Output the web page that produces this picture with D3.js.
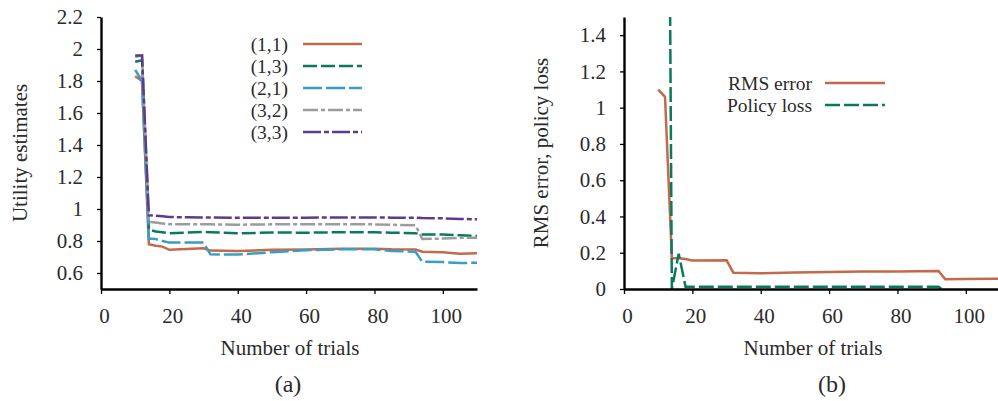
<!DOCTYPE html>
<html>
<head>
<meta charset="utf-8">
<script src="https://cdn.jsdelivr.net/npm/d3@7"></script>
<style>
  html, body { margin: 0; padding: 0; background: #fff; }
  svg { display: block; }
  text { font-family: "Liberation Serif", "Times New Roman", serif; fill: #2b2b2b; }
</style>
</head>
<body>
<svg id="chart" width="998" height="401"></svg>
<script>
// ---------- data: panel (a) ----------
const trialsA = [10, 12, 14, 16, 18, 20, 25, 30, 32, 40, 50, 60, 70, 80, 85, 92, 94, 100, 105, 110];
const u11 = [1.83, 1.80, 0.78, 0.77, 0.765, 0.745, 0.75, 0.755, 0.74, 0.737, 0.745, 0.747, 0.752, 0.752, 0.748, 0.747, 0.733, 0.73, 0.72, 0.723];
const u13 = [1.92, 1.93, 0.87, 0.86, 0.855, 0.848, 0.853, 0.856, 0.855, 0.848, 0.853, 0.852, 0.855, 0.855, 0.852, 0.849, 0.84, 0.84, 0.836, 0.832];
const u21 = [1.87, 1.80, 0.815, 0.812, 0.80, 0.79, 0.79, 0.79, 0.717, 0.715, 0.73, 0.742, 0.748, 0.748, 0.738, 0.733, 0.67, 0.668, 0.662, 0.664];
const u32 = [1.95, 1.96, 0.92, 0.915, 0.91, 0.905, 0.905, 0.905, 0.904, 0.902, 0.904, 0.904, 0.904, 0.904, 0.901, 0.898, 0.813, 0.815, 0.82, 0.82];
const u33 = [1.96, 1.96, 0.96, 0.958, 0.955, 0.95, 0.948, 0.947, 0.947, 0.945, 0.946, 0.946, 0.947, 0.947, 0.946, 0.946, 0.944, 0.942, 0.938, 0.936];
const namesA = ["(1,1)", "(1,3)", "(2,1)", "(3,2)", "(3,3)"];
const xTicks = [0, 20, 40, 60, 80, 100];
const yTicksA = [0.6, 0.8, 1, 1.2, 1.4, 1.6, 1.8, 2, 2.2];

// ---------- data: panel (b) ----------
const trialsRms = [10, 12, 14, 16, 18, 20, 30, 32, 40, 50, 60, 70, 80, 92, 94, 100, 110];
const rmsError  = [1.10, 1.06, 0.17, 0.17, 0.165, 0.157, 0.158, 0.09, 0.087, 0.091, 0.094, 0.096, 0.097, 0.099, 0.054, 0.055, 0.056];
const trialsLoss = [13, 14, 16, 18, 40, 60, 80, 92, 93];
const policyLoss = [3.0, 0, 0.195, 0.013, 0.013, 0.013, 0.013, 0.013, 0];
const namesB = ["RMS error", "Policy loss"];
const yTicksB = [0, 0.2, 0.4, 0.6, 0.8, 1, 1.2, 1.4];

// ---------- styles ----------
const stylesA = [
  { color: "#c26a4b", dash: null },
  { color: "#0b7a5c", dash: "14,4" },
  { color: "#3a9dc6", dash: "19,4" },
  { color: "#9c9c9c", dash: "15,3,4,3" },
  { color: "#5c3c8a", dash: "18,3,5,3" }
];
const stylesB = [
  { color: "#c26a4b", dash: null },
  { color: "#0b7a5c", dash: "15,4" }
];

const svg = d3.select("#chart");
svg.append("rect").attr("width", 998).attr("height", 401).attr("fill", "#fff");

function drawPanel(opts) {
  const g = svg.append("g");
  const x = d3.scaleLinear().domain([0, 110]).range([opts.left, opts.right]);
  const y = d3.scaleLinear().domain(opts.yDomain).range([289, 17]);

  const clipId = "clip" + opts.id;
  svg.append("defs").append("clipPath").attr("id", clipId)
    .append("rect").attr("x", opts.left).attr("y", 17)
    .attr("width", opts.right - opts.left + 2).attr("height", 272);

  const line = d3.line().x(d => x(d[0])).y(d => y(d[1]));
  const lines = g.append("g").attr("clip-path", `url(#${clipId})`);
  opts.series.forEach((s, i) => {
    const st = opts.styles[i];
    lines.append("path")
      .attr("d", line(s.xs.map((t, j) => [t, s.vs[j]])))
      .attr("fill", "none")
      .attr("stroke", st.color)
      .attr("stroke-width", 2.5)
      .attr("stroke-dasharray", st.dash)
      .attr("stroke-linejoin", "miter");
  });

  // axes
  const xAxis = g.append("g").attr("transform", "translate(0,289)")
    .call(d3.axisBottom(x).tickValues(xTicks).tickFormat(d => String(d)).tickSize(5).tickSizeOuter(0).tickPadding(14));
  const yAxis = g.append("g").attr("transform", `translate(${opts.left},0)`)
    .call(d3.axisLeft(y).tickValues(opts.yTicks).tickFormat(d => String(d)).tickSize(4).tickSizeOuter(0).tickPadding(14));
  [xAxis, yAxis].forEach(a => {
    a.select(".domain").attr("stroke", "#000").attr("stroke-width", 2.4);
    a.selectAll(".tick line").attr("stroke", "#000").attr("stroke-width", 1.3);
    a.selectAll(".tick text").attr("font-size", 21).attr("fill", "#2b2b2b")
      .attr("font-family", "Liberation Serif, serif");
  });
  xAxis.selectAll(".tick text").attr("dx", 3);

  // titles
  g.append("text").attr("x", (opts.left + opts.right) / 2 + 1).attr("y", 355)
    .attr("text-anchor", "middle").attr("font-size", 21).text("Number of trials");
  g.append("text").attr("transform", `translate(${opts.ytx},153) rotate(-90)`)
    .attr("text-anchor", "middle").attr("font-size", 21).text(opts.yTitle);
  g.append("text").attr("x", opts.capX).attr("y", 392)
    .attr("text-anchor", "middle").attr("font-size", 24).text(opts.caption);

  // legend
  opts.names.forEach((n, i) => {
    const ly = opts.legY + i * opts.legStep;
    g.append("text").attr("x", opts.legTextX).attr("y", ly + 7)
      .attr("text-anchor", "end").attr("font-size", 19.5).text(n);
    g.append("line").attr("x1", opts.legX1).attr("x2", opts.legX2)
      .attr("y1", ly).attr("y2", ly)
      .attr("stroke", opts.styles[i].color).attr("stroke-width", 2.5)
      .attr("stroke-dasharray", opts.styles[i].dash);
  });
}

drawPanel({
  id: "A", left: 101, right: 477, yDomain: [0.5, 2.2], yTicks: yTicksA,
  series: [u11, u13, u21, u32, u33].map(vs => ({ xs: trialsA, vs })),
  styles: stylesA, names: namesA,
  yTitle: "Utility estimates", ytx: 27, caption: "(a)", capX: 288,
  legY: 44, legStep: 22, legTextX: 288, legX1: 303, legX2: 362
});

drawPanel({
  id: "B", left: 624, right: 1000, yDomain: [0, 1.5], yTicks: yTicksB,
  series: [{ xs: trialsRms, vs: rmsError }, { xs: trialsLoss, vs: policyLoss }],
  styles: stylesB, names: namesB,
  yTitle: "RMS error, policy loss", ytx: 548, caption: "(b)", capX: 832,
  legY: 83, legStep: 22, legTextX: 812, legX1: 825, legX2: 885
});
</script>
</body>
</html>
